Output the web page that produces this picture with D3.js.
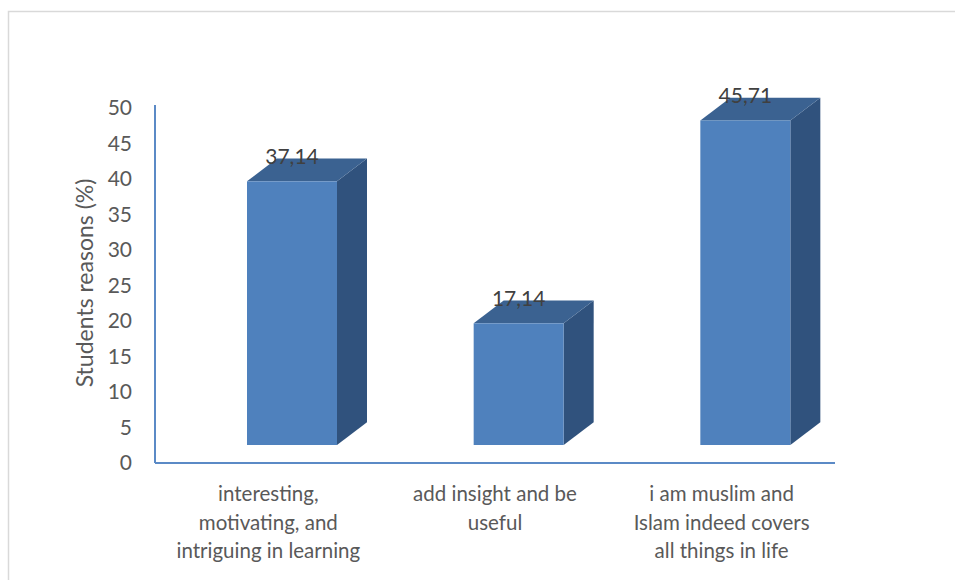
<!DOCTYPE html>
<html>
<head>
<meta charset="utf-8">
<script src="https://cdn.jsdelivr.net/npm/d3@7"></script>
<style>
  html, body { margin: 0; padding: 0; background: #ffffff; }
  svg { display: block; }
</style>
</head>
<body>
<svg id="chart" width="955" height="580"></svg>
<script>
// ---- data ----
const categories = [
  ["interesting,", "motivating, and", "intriguing in learning"],
  ["add insight and be", "useful"],
  ["i am muslim and", "Islam indeed covers", "all things in life"]
];
const values = [37.14, 17.14, 45.71];
const valueLabels = ["37,14", "17,14", "45,71"];
const yTicks = [0, 5, 10, 15, 20, 25, 30, 35, 40, 45, 50];
const yTitle = "Students reasons (%)";

// ---- layout ----
const W = 955, H = 580;
const svg = d3.select("#chart");
const font = "Lato, 'Open Sans', 'DejaVu Sans', sans-serif";
const textColor = "#595959";

// chart border
svg.append("rect")
  .attr("x", 8.5).attr("y", 11.5)
  .attr("width", W + 10).attr("height", H + 10)
  .attr("fill", "none").attr("stroke", "#d9d9d9").attr("stroke-width", 1.5);

const x0 = 155, x1 = 835;
const x = d3.scaleBand().domain(d3.range(categories.length)).range([x0, x1]).padding(0);
const yAxisScale = d3.scaleLinear().domain([0, 50]).range([463, 108]);
const yBar = d3.scaleLinear().domain([0, 50]).range([445, 90]);

// bar geometry (3D)
const frontOffset = 92, frontW = 90, dx = 30, dy = 22.7;

// axes lines
svg.append("line")
  .attr("x1", x0).attr("x2", x0)
  .attr("y1", 105).attr("y2", yAxisScale(0))
  .attr("stroke", "#5b8ac6").attr("stroke-width", 2);
svg.append("line")
  .attr("x1", x0).attr("x2", x1)
  .attr("y1", yAxisScale(0)).attr("y2", yAxisScale(0))
  .attr("stroke", "#5b8ac6").attr("stroke-width", 2);

// y tick labels
svg.append("g").selectAll("text").data(yTicks).join("text")
  .attr("x", 132).attr("y", d => yAxisScale(d))
  .attr("dy", "0.35em")
  .attr("text-anchor", "end")
  .attr("font-family", font).attr("font-size", 21)
  .attr("fill", textColor)
  .text(d => d);

// y title
svg.append("text")
  .attr("transform", "translate(93,283) rotate(-90)")
  .attr("text-anchor", "middle")
  .attr("font-family", font).attr("font-size", 23)
  .attr("fill", textColor)
  .text(yTitle);

// bars
const bars = svg.append("g").selectAll("g").data(values).join("g");
bars.each(function (v, i) {
  const g = d3.select(this);
  const L = x(i) + frontOffset, R = L + frontW;
  const T = yBar(v), B = yBar(0);
  // side face
  g.append("path")
    .attr("d", `M${R},${B} L${R + dx},${B - dy} L${R + dx},${T - dy} L${R},${T} Z`)
    .attr("fill", "#30527d");
  // top face
  g.append("path")
    .attr("d", `M${L},${T} L${L + dx},${T - dy} L${R + dx},${T - dy} L${R},${T} Z`)
    .attr("fill", "#3b6291");
  // front face
  g.append("rect")
    .attr("x", L).attr("y", T)
    .attr("width", frontW).attr("height", B - T)
    .attr("fill", "#4f81bd");
  // value label
  g.append("text")
    .attr("x", (L + R) / 2).attr("y", T - dy - 2)
    .attr("dy", "0.35em")
    .attr("text-anchor", "middle")
    .attr("font-family", font).attr("font-size", 21)
    .attr("fill", "#404040")
    .text(valueLabels[i]);
});

// category labels
const cat = svg.append("g").selectAll("text").data(categories).join("text")
  .attr("x", (d, i) => x(i) + x.bandwidth() / 2)
  .attr("y", 501)
  .attr("text-anchor", "middle")
  .attr("font-family", font).attr("font-size", 20.5)
  .attr("fill", textColor);
cat.selectAll("tspan").data(d => d).join("tspan")
  .attr("x", function () { return d3.select(this.parentNode).attr("x"); })
  .attr("dy", (d, j) => j === 0 ? 0 : 28.5)
  .text(d => d);
</script>
</body>
</html>
